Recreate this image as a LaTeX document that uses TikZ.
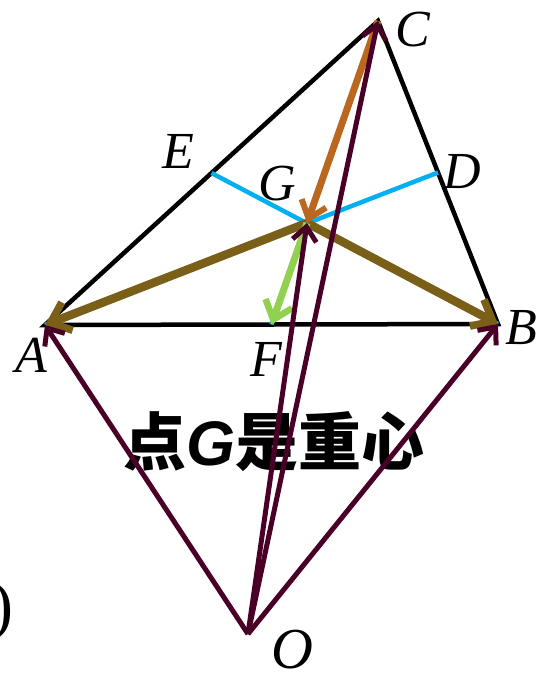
\documentclass[tikz,border=0pt]{standalone}
\usepackage{fontspec}
\setmainfont{Liberation Serif}
\newfontfamily\cjk{Noto Sans CJK SC}
\newfontfamily\lsans{Liberation Sans}
\usetikzlibrary{arrows.meta}
\definecolor{medblue}{RGB}{0,176,240}
\definecolor{olivevec}{RGB}{122,95,25}
\definecolor{orangevec}{RGB}{186,104,32}
\definecolor{greenvec}{RGB}{146,208,80}
\definecolor{maroonvec}{RGB}{74,0,38}
\begin{document}
\begin{tikzpicture}[x=1pt,y=-1pt,
  tri/.style={line width=4.5pt,black},
  med/.style={line width=4.5pt,medblue},
  vecolive/.style={line width=8.5pt,olivevec,-{Straight Barb[length=18pt,width=30pt,line width=7.5pt]}},
  vecorange/.style={line width=7pt,orangevec,-{Straight Barb[length=16pt,width=26pt,line width=6pt]}},
  vecgreen/.style={line width=7pt,greenvec,-{Straight Barb[length=17pt,width=28pt,line width=6.5pt]}},
  vecmaroon/.style={line width=5pt,maroonvec,-{Straight Barb[length=14pt,width=24pt,line width=5pt]}},
  lab/.style={inner sep=0pt,font=\fontsize{52}{52}\selectfont\itshape}]
\useasboundingbox (0,0) rectangle (538,678);
\coordinate (A) at (45,325);
\coordinate (B) at (498,324);
\coordinate (C) at (378,21);
\coordinate (O) at (248,634);
\coordinate (G) at (307,223);
\coordinate (D) at (438,172.5);
\coordinate (E) at (211.5,173);
\coordinate (F) at (271.5,324.5);
% title text (under the lines)
\node[inner sep=0pt] (title) at (274,442) {\fontsize{63}{63}\selectfont\cjk\bfseries 点{\lsans\bfseries\itshape G}是重心};
% triangle
\draw[tri,line join=miter] (A) -- (B) -- (C) -- cycle;
% medians
\draw[med] (A) -- (D);
\draw[med] (B) -- (E);
\draw[med] (C) -- (F);
% vectors
\draw[vecolive] (G) -- (A);
\draw[vecolive] (G) -- (B);
\draw[vecgreen] (G) -- (F);
\draw[vecorange] (C) -- (G);
\draw[vecmaroon] (O) -- (A);
\draw[vecmaroon] (O) -- (B);
\draw[vecmaroon] (O) -- (C);
\draw[vecmaroon] (O) -- (G);
% labels
\node[lab] (lA) at (31,355) {A};
\node[lab] (lB) at (521,328) {B};
\node[lab] (lC) at (413,30) {C};
\node[lab] (lD) at (462,172) {D};
\node[lab] (lE) at (178,151) {E};
\node[lab] (lF) at (266,359) {F};
\node[lab] (lG) at (277,184) {G};
\node[lab,font=\fontsize{58}{58}\selectfont\itshape] (lO) at (292,650) {O};
\node[inner sep=0pt,anchor=east,font=\fontsize{66}{66}\selectfont] (paren) at (14,612) {)};
\end{tikzpicture}
\end{document}
